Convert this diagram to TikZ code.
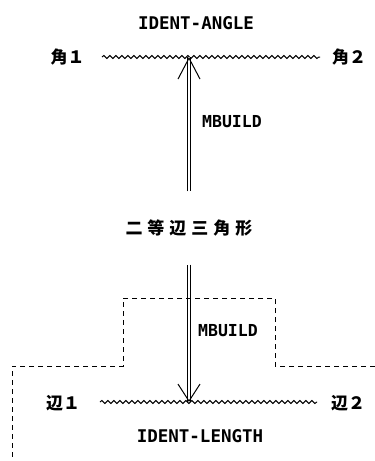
\documentclass[tikz,border=0pt]{standalone}
\usepackage{fontspec}
\newfontfamily\cjk{Noto Sans CJK JP}
\newfontfamily\mono{DejaVu Sans Mono}
\usetikzlibrary{arrows.meta,decorations.pathmorphing}
\begin{document}
\begin{tikzpicture}[x=1pt,y=-1pt,
  cjkl/.style={font=\fontsize{17}{17}\selectfont\cjk\bfseries, inner sep=0pt},
  monol/.style={font=\fontsize{17.5}{18}\selectfont\mono\bfseries, inner sep=0pt},
  mbl/.style={font=\fontsize{16.5}{17}\selectfont\mono\bfseries, inner sep=0pt},
  wavy/.style={line width=1pt, decorate, decoration={snake, segment length=6pt, amplitude=1.5pt}},
  dbl/.style={line width=0.9pt, double=white, double distance=1.8pt},
  tipline/.style={draw=white, line width=0.6pt, -{Straight Barb[length=#1, width=22pt, line width=1pt, color=black]}},
  dashbox/.style={line width=0.9pt, dash pattern=on 5pt off 4pt}
]
\useasboundingbox (0,0) rectangle (375,461);
% labels
\node[monol] (ia) at (196,23) {IDENT-ANGLE};
\node[monol] (il) at (200,436) {IDENT-LENGTH};
\node[mbl] (mb1) at (232,122) {MBUILD};
\node[mbl] (mb2) at (228,331) {MBUILD};
\node[cjkl] (a1) at (67.5,57) {角１};
\node[cjkl] (a2) at (349,57) {角２};
\node[cjkl] (e1) at (63,403) {辺１};
\node[cjkl] (e2) at (348,403) {辺２};
\node[cjkl, minimum height=73pt] (tri) at (189,228)
  {二\hspace{5pt}等\hspace{5pt}辺\hspace{5pt}三\hspace{5pt}角\hspace{5pt}形};
% wave ends and arrow apexes
\coordinate (w1a) at (102,57);
\coordinate (w1b) at (320,57);
\coordinate (w2a) at (100,402);
\coordinate (w2b) at (317,402);
\coordinate (ta) at (189,57);
\coordinate (ba) at (189,402);
% wavy lines
\draw[wavy] (w1a) -- (w1b);
\draw[wavy] (w2a) -- (w2b);
% double arrows
\draw[dbl] (tri.north) -- (ta);
\draw[tipline=21pt] (tri.north) -- (ta);
\draw[dbl] (tri.south) -- (ba);
\draw[tipline=17pt] (tri.south) -- (ba);
% dashed outline
\draw[dashbox] (375,366) -- (275,366) -- (275,298) -- (123,298) -- (123,366) -- (12,366) -- (12,461);
\end{tikzpicture}
\end{document}
